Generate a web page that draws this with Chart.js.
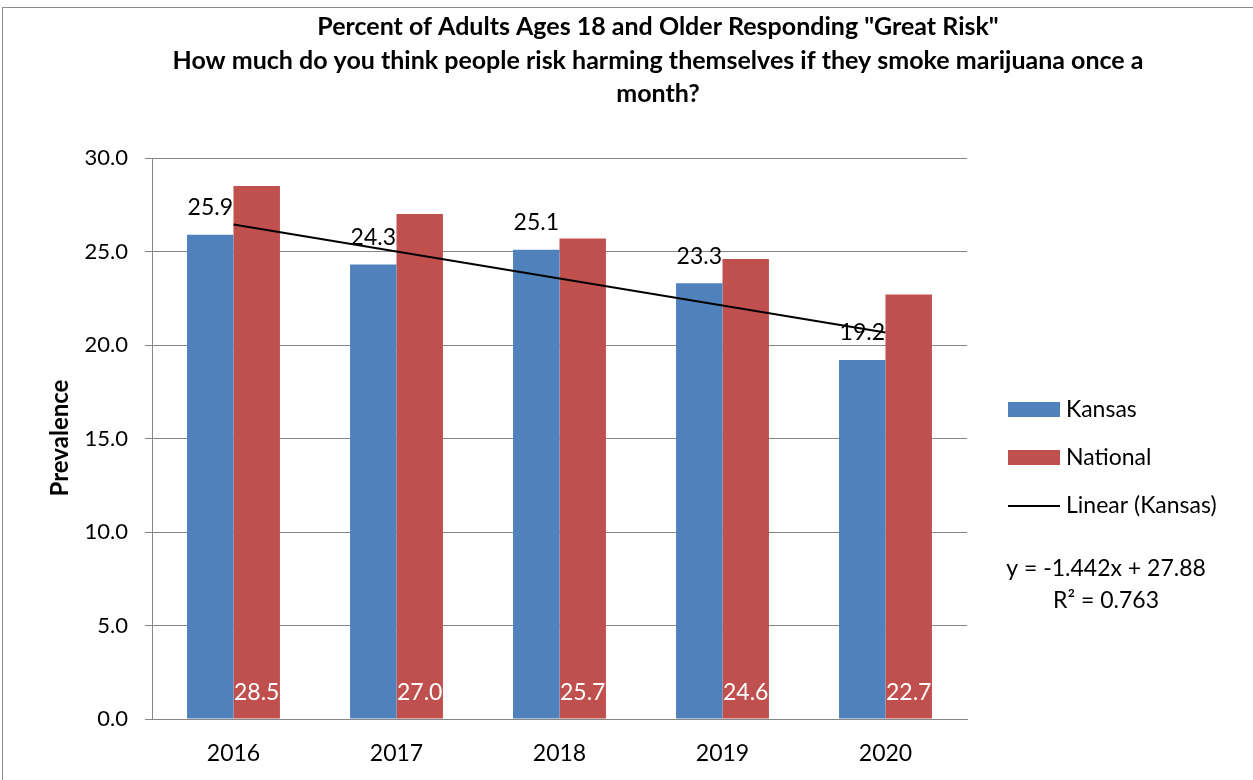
<!DOCTYPE html>
<html>
<head>
<meta charset="utf-8">
<script src="https://cdn.jsdelivr.net/npm/chart.js@4.4.1/dist/chart.umd.min.js"></script>
<style>
  html, body { margin: 0; padding: 0; background: #fff; }
  #wrap { width: 1253px; height: 780px; position: relative; }
</style>
</head>
<body>
<div id="wrap"><canvas id="riskChart" width="1253" height="780"></canvas></div>
<script>
// Data
const years = ['2016', '2017', '2018', '2019', '2020'];
const kansas = [25.9, 24.3, 25.1, 23.3, 19.2];
const national = [28.5, 27.0, 25.7, 24.6, 22.7];
const trendKansas = [26.44, 25.00, 23.56, 22.11, 20.67];
const titleLines = [
  'Percent of Adults Ages 18 and Older Responding "Great Risk"',
  'How much do you think people risk harming themselves if they smoke marijuana once a',
  'month?'
];
const equationLines = ['y = -1.442x + 27.88', 'R² = 0.763'];

const FONT = 'Lato, "Open Sans", sans-serif';
const BLUE = '#4F81BD';
const RED = '#C0504D';
const GRID = '#868686';

// Title, axis title, frame, value labels and legend
const decor = {
  id: 'decor',
  beforeDraw(chart) {
    const ctx = chart.ctx;
    ctx.save();
    ctx.fillStyle = '#fff';
    ctx.fillRect(0, 0, chart.width, chart.height);
    ctx.strokeStyle = '#8c8c8c';
    ctx.lineWidth = 1;
    ctx.strokeRect(2.5, 7.5, 1400, 900);
    ctx.restore();
  },
  afterDatasetsDraw(chart) {
    const ctx = chart.ctx;
    const y = chart.scales.y;
    ctx.save();
    ctx.textAlign = 'center';
    ctx.textBaseline = 'middle';

    // title
    ctx.fillStyle = '#000';
    ctx.font = 'bold 25px ' + FONT;
    titleLines.forEach((t, i) => ctx.fillText(t, 658, 27 + i * 33.5));

    // y axis title
    ctx.font = 'bold 24px ' + FONT;
    ctx.save();
    ctx.translate(60, 438);
    ctx.rotate(-Math.PI / 2);
    ctx.fillText('Prevalence', 0, 0);
    ctx.restore();

    // value labels
    ctx.font = '23px ' + FONT;
    chart.getDatasetMeta(1).data.forEach((bar, i) => {
      ctx.fillStyle = '#000';
      ctx.fillText(kansas[i].toFixed(1), bar.x, bar.y - 27);
    });
    chart.getDatasetMeta(2).data.forEach((bar, i) => {
      ctx.fillStyle = '#fff';
      ctx.fillText(national[i].toFixed(1), bar.x, y.getPixelForValue(0) - 26);
    });

    // legend
    ctx.textAlign = 'left';
    ctx.fillStyle = BLUE;
    ctx.fillRect(1008, 402, 52, 15);
    ctx.fillStyle = RED;
    ctx.fillRect(1008, 450, 52, 15);
    ctx.strokeStyle = '#000';
    ctx.lineWidth = 2;
    ctx.beginPath();
    ctx.moveTo(1008, 506);
    ctx.lineTo(1060, 506);
    ctx.stroke();
    ctx.fillStyle = '#000';
    ctx.fillText('Kansas', 1066, 410);
    ctx.fillText('National', 1066, 458);
    ctx.fillText('Linear (Kansas)', 1066, 506);

    ctx.textAlign = 'center';
    ctx.fillText(equationLines[0], 1106, 569);
    ctx.fillText(equationLines[1], 1106, 601);
    ctx.restore();
  }
};

new Chart(document.getElementById('riskChart'), {
  type: 'bar',
  data: {
    labels: years,
    datasets: [
      {
        type: 'line',
        label: 'Linear (Kansas)',
        data: trendKansas,
        borderColor: '#000',
        borderWidth: 2,
        pointRadius: 0,
        fill: false,
        tension: 0,
        order: 0
      },
      {
        label: 'Kansas',
        data: kansas,
        backgroundColor: BLUE,
        borderWidth: 0,
        categoryPercentage: 0.57,
        barPercentage: 1.0,
        order: 1
      },
      {
        label: 'National',
        data: national,
        backgroundColor: RED,
        borderWidth: 0,
        categoryPercentage: 0.57,
        barPercentage: 1.0,
        order: 1
      }
    ]
  },
  options: {
    responsive: false,
    animation: false,
    devicePixelRatio: 1,
    layout: { padding: { left: 0, top: 158, right: 286, bottom: 0 } },
    plugins: {
      legend: { display: false },
      title: { display: false },
      tooltip: { enabled: false }
    },
    scales: {
      x: {
        afterFit(scale) { scale.height = 61; },
        grid: { display: false, drawTicks: false },
        border: { display: true, color: GRID, width: 1 },
        ticks: { color: '#000', padding: 21, font: { family: FONT, size: 23 } }
      },
      y: {
        min: 0, max: 30,
        afterFit(scale) { scale.width = 152; },
        grid: { color: GRID, lineWidth: 1, tickLength: 7 },
        border: { display: true, color: GRID, width: 1 },
        ticks: {
          stepSize: 5, color: '#000', padding: 17,
          font: { family: FONT, size: 22 },
          callback: v => v.toFixed(1)
        }
      }
    }
  },
  plugins: [decor]
});
</script>
</body>
</html>
